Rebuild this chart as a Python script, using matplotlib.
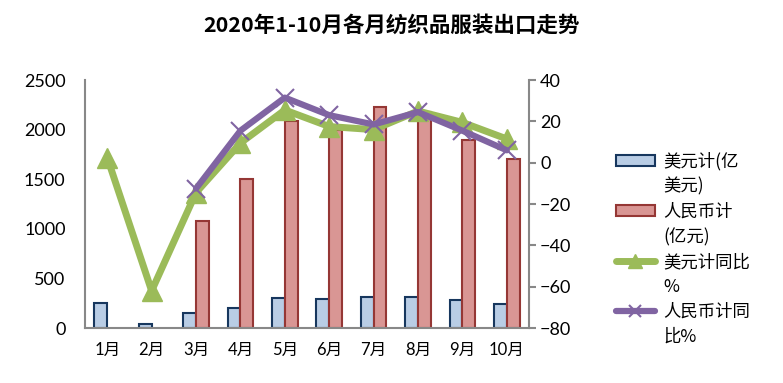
import matplotlib.pyplot as plt
import numpy as np
from matplotlib.patches import Patch
from matplotlib.lines import Line2D

plt.rcParams['font.family'] = ['Lato', 'Noto Sans CJK SC', 'DejaVu Sans']

months = ["1月", "2月", "3月", "4月", "5月", "6月", "7月", "8月", "9月", "10月"]
usd = [255, 40, 155, 205, 298, 288, 308, 308, 280, 245]
rmb = [0, 0, 1080, 1505, 2090, 2000, 2230, 2180, 1900, 1700]
usd_yoy = [2.5, -62, -14.5, 9.5, 25.5, 17.5, 16, 25, 19.5, 11.5]
rmb_yoy = [np.nan, np.nan, -12.5, 15.5, 31.5, 23, 18.5, 24.5, 15.5, 6]

fig = plt.figure(figsize=(7.83, 3.83), dpi=100)
ax = fig.add_axes([0.1086, 0.1436, 0.567, 0.6474])
ax2 = ax.twinx()

x = np.arange(len(months))
w = 0.29
ax.bar(x - w / 2, usd, w, color='#B9CDE5', edgecolor='#17375E', linewidth=1.5, zorder=2)
ax.bar(x[2:] + w / 2, rmb[2:], w, color='#D99694', edgecolor='#953735', linewidth=1.5, zorder=2)

ax2.plot(x, usd_yoy, color='#9BBB59', lw=5, marker='^', markersize=15,
         solid_capstyle='round', zorder=3)
ax2.plot(x, rmb_yoy, color='#8064A2', lw=4.5, marker='x', markersize=13,
         markeredgewidth=1.5, solid_capstyle='round', zorder=4)

ax.set_xlim(-0.5, len(months) - 0.5)
ax.set_ylim(0, 2500)
ax.set_yticks(range(0, 2501, 500))
ax2.set_ylim(-80, 40)
ax2.set_yticks(range(-80, 41, 20))
ax.set_xticks(x)
ax.set_xticklabels(months)

for a in (ax, ax2):
    for s in a.spines.values():
        s.set_visible(False)
ax.spines['left'].set_visible(True)
ax.spines['bottom'].set_visible(True)
ax2.spines['right'].set_visible(True)
for s in ('left', 'bottom'):
    ax.spines[s].set_color('#888888')
    ax.spines[s].set_linewidth(1.5)
ax2.spines['right'].set_color('#888888')
ax2.spines['right'].set_linewidth(1.5)

ax.tick_params(axis='y', length=0, labelsize=13, pad=14)
ax.tick_params(axis='x', length=0, labelsize=12, pad=10)
ax2.tick_params(axis='y', length=5, width=1.5, color='#888888', labelsize=13, pad=3)

fig.text(0.5, 0.935, "2020年1-10月各月纺织品服装出口走势", ha='center', va='center',
         fontsize=15.5, fontweight='bold', family=['Noto Sans CJK SC'])

blank = Patch(visible=False)
handles = [
    Patch(facecolor='#B9CDE5', edgecolor='#17375E', linewidth=1.5), blank,
    Patch(facecolor='#D99694', edgecolor='#953735', linewidth=1.5), blank,
    Line2D([], [], color='#9BBB59', lw=5, marker='^', markersize=10, solid_capstyle='round'), blank,
    Line2D([], [], color='#8064A2', lw=4.5, marker='x', markersize=9, markeredgewidth=1.5,
           solid_capstyle='round'), blank,
]
labels = ["美元计(亿", "美元)", "人民币计", "(亿元)", "美元计同比", "%", "人民币计同", "比%"]
fig.legend(handles, labels, loc='upper left', bbox_to_anchor=(0.775, 0.625),
           frameon=False, handlelength=2.3, handletextpad=0.45, handleheight=0.6,
           labelspacing=0.4, borderpad=0, prop={'family': ['Noto Sans CJK SC'], 'size': 12.5})

fig.savefig("out.png", dpi=100)
